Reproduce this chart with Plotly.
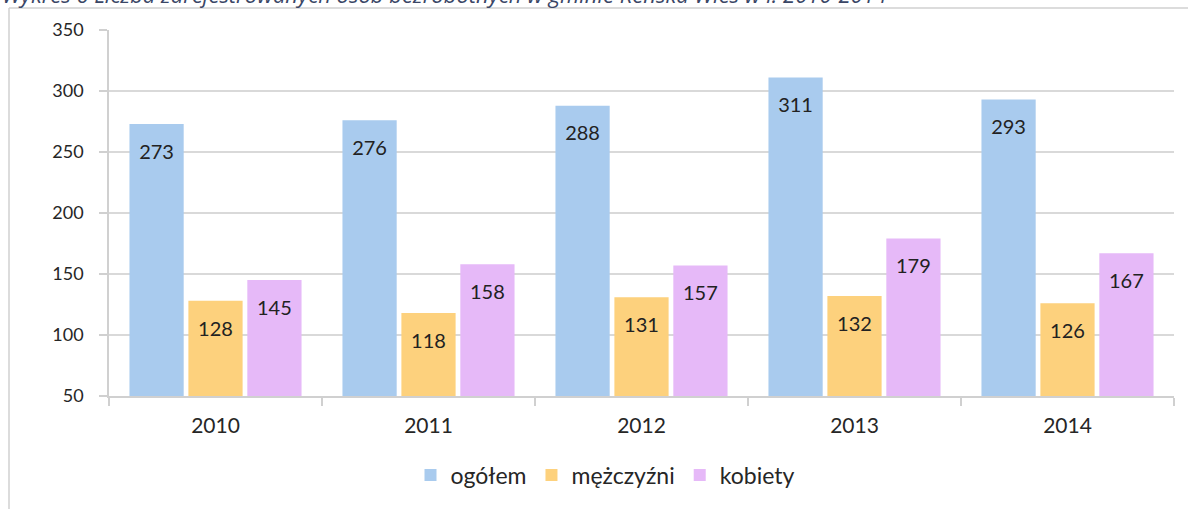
import plotly.graph_objects as go

lata = ["2010", "2011", "2012", "2013", "2014"]
ogolem = [273, 276, 288, 311, 293]
mezczyzni = [128, 118, 131, 132, 126]
kobiety = [145, 158, 157, 179, 167]

tytul = "Wykres 6 Liczba zarejestrowanych osób bezrobotnych w gminie Reńska Wieś w l. 2010-2014"

W, H = 1188, 509
ml, mr, mt, mb = 109, 14, 30, 113
pw, ph = W - ml - mr, H - mt - mb


def px(x):
    return (x - ml) / pw


def py(y):
    return 1 - (y - mt) / ph


serie = [("ogółem", ogolem, "#A9CBEE"),
         ("mężczyźni", mezczyzni, "#FDD17D"),
         ("kobiety", kobiety, "#E6B9F8")]

fig = go.Figure()
for name, vals, col in serie:
    fig.add_trace(go.Bar(x=lata, y=vals, name=name, marker_color=col, marker_line_width=0))
# etykiety wartości wewnątrz słupków
for name, vals, col in serie:
    fig.add_trace(go.Scatter(
        x=lata, y=vals, mode="markers+text", text=vals, textposition="bottom center",
        marker=dict(size=30, opacity=0), showlegend=False, hoverinfo="skip",
        textfont=dict(family="Lato", size=20, color="#222222"),
    ))

fig.update_layout(
    width=W, height=H, margin=dict(l=ml, r=mr, t=mt, b=mb),
    paper_bgcolor="white", plot_bgcolor="white",
    barmode="group", bargap=0.17, bargroupgap=0.08,
    scattermode="group", scattergap=0.17,
    font=dict(family="Lato", size=18, color="#262626"),
    legend=dict(orientation="h", x=px(605), xanchor="center", y=py(475), yanchor="middle",
                font=dict(size=23), traceorder="normal"),
    shapes=[
        dict(type="line", xref="paper", yref="paper", x0=px(9), x1=px(1188), y0=py(8), y1=py(8),
             line=dict(color="#D0D0D0", width=1.5)),
        dict(type="line", xref="paper", yref="paper", x0=px(9), x1=px(9), y0=py(8), y1=py(509),
             line=dict(color="#D0D0D0", width=1.5)),
    ],
    annotations=[dict(text="<i>" + tytul + "</i>", xref="paper", yref="paper", x=px(0), y=py(11),
                      xanchor="left", yanchor="bottom", showarrow=False,
                      font=dict(family="Open Sans", size=22, color="#3A4666"))],
)
fig.update_yaxes(range=[50, 350], dtick=50, showgrid=True, gridcolor="#D9D9D9", gridwidth=1.5,
                 showline=True, linecolor="#D0D0D0", linewidth=1.5, ticks="outside",
                 ticklen=8, tickcolor="#D0D0D0", tickwidth=1.5, zeroline=False,
                 ticklabelstandoff=12)
fig.update_xaxes(showline=True, linecolor="#D0D0D0", linewidth=1.5, ticks="outside",
                 tickson="boundaries", ticklen=8, tickcolor="#D0D0D0", tickwidth=1.5,
                 ticklabelstandoff=10, tickfont=dict(size=21))

fig.write_html("out.html", config={"displayModeBar": False},
               post_script="document.body.style.margin='0';")
